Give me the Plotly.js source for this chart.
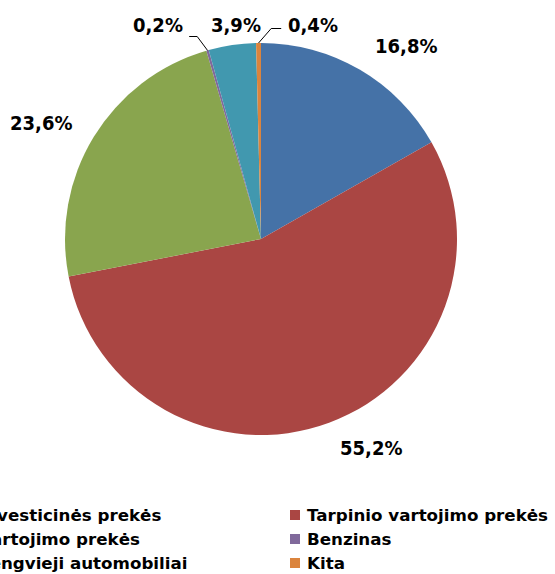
<!DOCTYPE html>
<html>
<head>
<meta charset="utf-8">
<script src="https://cdn.plot.ly/plotly-3.0.1.min.js"></script>
<style>html,body{margin:0;padding:0;background:#fff;}#chart{width:555px;height:574px;}</style>
</head>
<body>
<div id="chart"></div>
<script>
const labels = ["Investicinės prekės","Tarpinio vartojimo prekės","Vartojimo prekės","Benzinas","Lengvieji automobiliai","Kita"];
const values = [16.8, 55.2, 23.6, 0.2, 3.9, 0.4];
const colors = ["#4572A7","#AA4643","#89A54E","#80699B","#4198AF","#DB843D"];

const W = 555, H = 574;
const dom = {x: [65/W, 457/W], y: [1 - 435/H, 1 - 43/H]};
const cx = (dom.x[0] + dom.x[1]) / 2 * W;
const cy = (1 - (dom.y[0] + dom.y[1]) / 2) * H;
const R = Math.min((dom.x[1]-dom.x[0]) * W, (dom.y[1]-dom.y[0]) * H) / 2;
const px = x => x / W, py = y => 1 - y / H;
const fmt = v => v.toFixed(1).replace('.', ',') + '%';
const labelFont = {family: 'DejaVu Sans Condensed, DejaVu Sans', size: 20, color: '#000', weight: 'bold'};
const legendFont = {family: 'DejaVu Sans', size: 16.7, color: '#000', weight: 'bold'};

const total = values.reduce((a, b) => a + b, 0);
let cum = 0;
const mids = values.map(v => { const m = 2 * Math.PI * (cum + v / 2) / total; cum += v; return m; });

const annotations = [];
const shapes = [];
const gap = 27;
// large slices: label placed along the slice bisector, outside the pie
values.forEach((v, i) => {
  const t = mids[i];
  if (v >= 5) {
    const x = cx + (R + gap) * Math.sin(t), y = cy - (R + gap) * Math.cos(t);
    annotations.push({xref: 'paper', yref: 'paper', x: px(x) + (Math.sin(t) < 0 ? 3 / W : 0), y: py(y), text: fmt(v), showarrow: false,
      xanchor: Math.sin(t) > 0 ? 'left' : 'right', yanchor: 'middle', font: labelFont});
  }
});
// small slices at the top: side-by-side labels, leader lines for the thinnest
const iTeal = 4, iPurple = 3, iOrange = 5;
const tealX = cx + R * Math.sin(mids[iTeal]) + 4;
const topEdge = cy - R;
const labelY = topEdge - 18;
annotations.push({xref:'paper', yref:'paper', x: px(tealX), y: py(labelY), text: fmt(values[iTeal]), showarrow:false, xanchor:'center', yanchor:'middle', font: labelFont});
annotations.push({xref:'paper', yref:'paper', x: px(tealX - 51), y: py(labelY), text: fmt(values[iPurple]), showarrow:false, xanchor:'right', yanchor:'middle', font: labelFont});
annotations.push({xref:'paper', yref:'paper', x: px(tealX + 50), y: py(labelY), text: fmt(values[iOrange]), showarrow:false, xanchor:'left', yanchor:'middle', font: labelFont});

function leader(i, elbowX, elbowY, endX) {
  const ex = cx + R * Math.sin(mids[i]), ey = cy - R * Math.cos(mids[i]);
  shapes.push({type:'path', xref:'paper', yref:'paper',
    path: `M${px(ex)},${py(ey)} L${px(elbowX)},${py(elbowY)} L${px(endX)},${py(elbowY)}`,
    line:{color:'#000', width:1}});
}
leader(iPurple, tealX - 39, topEdge - 6.5, tealX - 47);
leader(iOrange, tealX + 35, topEdge - 14.5, tealX + 45);

// legend: two columns, filled row by row
const legCols = [-23, 305], legRow0 = 515, legRowH = 24, sq = 10;
labels.forEach((lab, i) => {
  const col = i % 2, row = Math.floor(i / 2);
  const tx = legCols[col], ty = legRow0 + row * legRowH;
  shapes.push({type:'rect', xref:'paper', yref:'paper', x0: px(tx - 15), x1: px(tx - 5), y0: py(ty - 5), y1: py(ty + 5),
    fillcolor: colors[i], line: {width: 0}});
  annotations.push({xref:'paper', yref:'paper', x: px(tx), y: py(ty), text: lab, showarrow:false,
    xanchor:'left', yanchor:'middle', font: legendFont});
});

const trace = {
  type: 'pie', labels: labels, values: values, sort: false, direction: 'clockwise', rotation: 0,
  marker: {colors: colors, line: {width: 0}}, textinfo: 'none', hoverinfo: 'label+percent',
  domain: dom
};

const layout = {
  width: W, height: H, margin: {l:0, r:0, t:0, b:0}, paper_bgcolor:'#fff',
  showlegend: false,
  annotations: annotations, shapes: shapes
};
Plotly.newPlot('chart', [trace], layout, {displayModeBar:false, staticPlot:true});
</script>
</body>
</html>
